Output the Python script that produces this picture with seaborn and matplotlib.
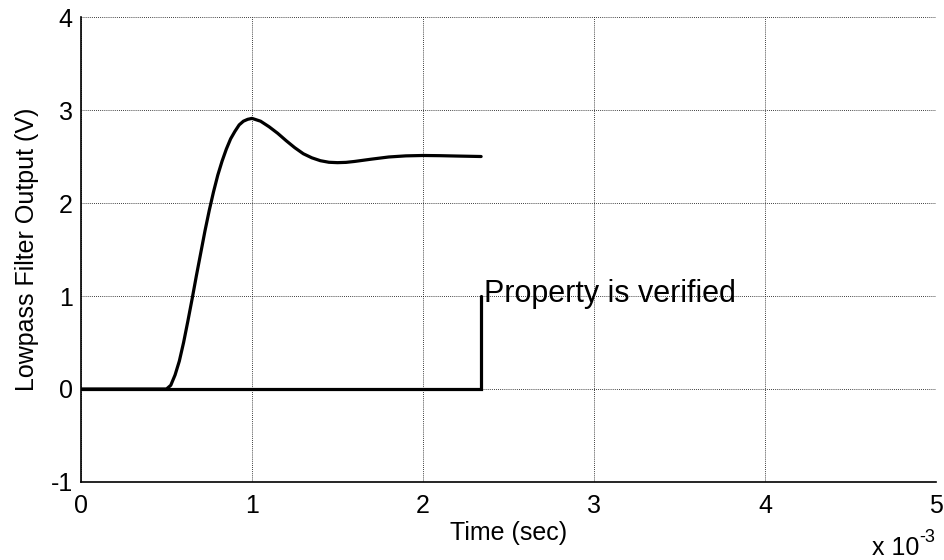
import numpy as np
import pandas as pd
import matplotlib
matplotlib.use("Agg")
import matplotlib.pyplot as plt
from matplotlib.ticker import FuncFormatter
import seaborn as sns

# filter output (time in ms, volts)
filter_time_ms = [0.0, 0.5, 0.525, 0.55, 0.575, 0.6, 0.625, 0.65, 0.675, 0.7,
                  0.725, 0.75, 0.775, 0.8, 0.825, 0.85, 0.875, 0.9, 0.925, 0.95,
                  0.975, 1.0, 1.05, 1.1, 1.15, 1.2, 1.25, 1.3, 1.35, 1.4,
                  1.45, 1.5, 1.55, 1.6, 1.7, 1.8, 1.9, 2.0, 2.1, 2.2, 2.34]
filter_volts = [0.0, 0.0, 0.04, 0.15, 0.30, 0.50, 0.73, 0.97, 1.22, 1.46,
                1.70, 1.92, 2.12, 2.30, 2.45, 2.58, 2.69, 2.77, 2.84, 2.88,
                2.90, 2.91, 2.88, 2.82, 2.75, 2.67, 2.595, 2.53, 2.486, 2.455,
                2.438, 2.434, 2.437, 2.447, 2.472, 2.495, 2.507, 2.511, 2.509, 2.505, 2.50]
filter_time = [t * 1e-3 for t in filter_time_ms]

# property monitor signal
monitor_time = [0.0, 2.34e-3, 2.34e-3]
monitor_value = [0.0, 0.0, 1.0]

label_text = "Property is verified"

sns.set_style("white")
plt.rcParams["font.family"] = ["Liberation Sans", "DejaVu Sans"]
plt.rcParams["text.color"] = "black"
plt.rcParams["axes.labelcolor"] = "black"

fig = plt.figure(figsize=(9.44, 5.6), dpi=100)
ax = fig.add_axes([0.0858, 0.1393, 0.9057, 0.8303])

df_filter = pd.DataFrame({"t": filter_time, "v": filter_volts})
df_monitor = pd.DataFrame({"t": monitor_time, "v": monitor_value})

sns.lineplot(data=df_filter, x="t", y="v", ax=ax, color="black", linewidth=2.3,
             sort=False, estimator=None, solid_joinstyle="round", solid_capstyle="round")
sns.lineplot(data=df_monitor, x="t", y="v", ax=ax, color="black", linewidth=2.3,
             sort=False, estimator=None, solid_joinstyle="miter")

ax.annotate(label_text, xy=(monitor_time[-1], monitor_value[-1]),
            xytext=(2, -4), textcoords="offset points", fontsize=22,
            ha="left", va="baseline", color="black")

ax.set_xlim(0, 5e-3)
ax.set_ylim(-1, 4)
ax.set_xticks(np.arange(0, 5.01e-3, 1e-3))
ax.set_yticks(np.arange(-1, 5, 1))
ax.xaxis.set_major_formatter(FuncFormatter(lambda v, p: f"{v * 1e3:g}"))
ax.yaxis.set_major_formatter(FuncFormatter(lambda v, p: f"{v:g}"))

ax.grid(True, color="black", linestyle=(0, (1, 1.5)), linewidth=0.6)
for side in ["top", "right"]:
    ax.spines[side].set_visible(False)
for side in ["left", "bottom"]:
    ax.spines[side].set_color("black")
    ax.spines[side].set_linewidth(1.2)

ax.tick_params(direction="in", length=5, width=1, colors="black", labelsize=18)
ax.tick_params(axis="x", pad=9)
ax.tick_params(axis="y", pad=6)
ax.set_xlabel("Time (sec)", fontsize=18, labelpad=2)
ax.set_ylabel("Lowpass Filter Output (V)", fontsize=18, labelpad=8)

# axis multiplier, MATLAB style
fig.text(0.9735, 0.009, "x 10", fontsize=18, ha="right", va="baseline")
fig.text(0.9735, 0.032, "-3", fontsize=13, ha="left", va="baseline")

fig.savefig("out.png", dpi=100)
